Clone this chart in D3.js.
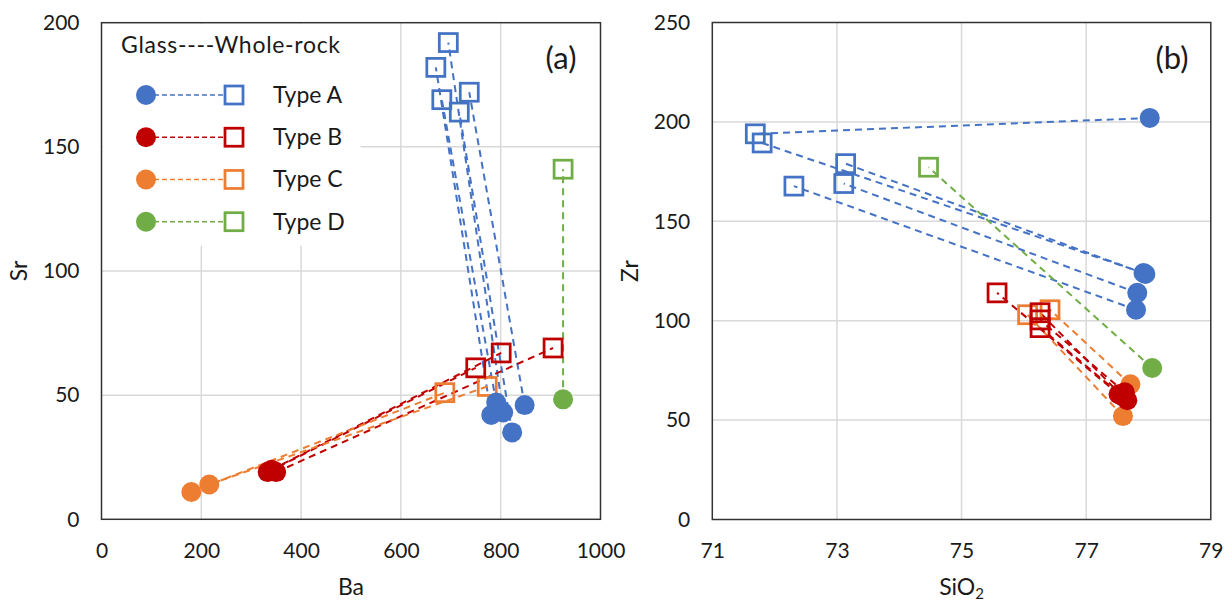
<!DOCTYPE html>
<html><head><meta charset="utf-8">
<script src="https://cdn.jsdelivr.net/npm/d3@7"></script>
<style>
html,body{margin:0;padding:0;background:#fff;}
svg{display:block;font-family:Lato, "Open Sans", sans-serif;}
</style></head>
<body><svg id="c" width="1226" height="604"></svg>
<script>
// ---------- DATA ----------
const typeNames = ["Type A", "Type B", "Type C", "Type D"];
const legendTitle = "Glass----Whole-rock";

// Panel (a): Ba vs Sr. glass[i] is joined to wholeRock[i]
const aTypeA_glass = [[781, 42], [791, 47], [805, 43], [823, 35], [848, 46]];
const aTypeA_wr    = [[670, 182], [682, 169], [695, 192], [717, 164], [737, 172]];
const aTypeB_glass = [[333, 19], [341, 20], [350, 19]];
const aTypeB_wr    = [[750, 61], [801, 67], [905, 69]];
const aTypeC_glass = [[180, 11], [216, 14]];
const aTypeC_wr    = [[688, 51], [773, 53.5]];
const aTypeD_glass = [[925, 48.3]];
const aTypeD_wr    = [[925, 141]];

// Panel (b): SiO2 vs Zr
const bTypeA_glass = [[78.02, 202], [77.92, 124], [77.95, 123.5], [77.82, 114], [77.80, 105.5]];
const bTypeA_wr    = [[71.69, 194], [71.80, 189.4], [73.14, 179], [73.11, 169], [72.31, 167.7]];
const bTypeB_glass = [[77.52, 63], [77.58, 62], [77.62, 64], [77.66, 60]];
const bTypeB_wr    = [[75.57, 114], [76.26, 104], [76.26, 100.4], [76.26, 96.5]];
const bTypeC_glass = [[77.59, 52], [77.71, 68]];
const bTypeC_wr    = [[76.06, 103], [76.42, 105.5]];
const bTypeD_glass = [[78.06, 76.2]];
const bTypeD_wr    = [[74.47, 177.2]];

const aXTicks = [0, 200, 400, 600, 800, 1000];
const aYTicks = [0, 50, 100, 150, 200];
const bXTicks = [71, 73, 75, 77, 79];
const bYTicks = [0, 50, 100, 150, 200, 250];

// ---------- STYLE ----------
const colors = ["#4472C4", "#C00000", "#ED7D31", "#70AD47"];
const textColor = "#1a1a1a";
const gridColor = "#D9D9D9";
const frameColor = "#333";
const fs = 21;     // tick labels
const fsT = 23;    // titles / legend

const svg = d3.select("#c");

function panel(opts) {
  const {x, y, xTicks, yTicks, xLabel, yLabel, yLabelX, tag, tagX, series, legendBox} = opts;
  const g = svg.append("g");
  const [x0, x1] = x.range();
  const [y0, y1] = y.range();
  // gridlines
  g.selectAll(".gx").data(xTicks.slice(1, -1)).join("line")
    .attr("x1", d => x(d)).attr("x2", d => x(d)).attr("y1", y0).attr("y2", y1)
    .attr("stroke", gridColor).attr("stroke-width", 1.5);
  g.selectAll(".gy").data(yTicks.slice(1, -1)).join("line")
    .attr("y1", d => y(d)).attr("y2", d => y(d)).attr("x1", x0).attr("x2", x1)
    .attr("stroke", gridColor).attr("stroke-width", 1.5);
  if (legendBox) {
    g.append("rect").attr("x", x0 + 1).attr("y", y1 + 1)
      .attr("width", legendBox[0]).attr("height", legendBox[1]).attr("fill", "#fff");
  }
  // frame
  g.append("rect").attr("x", x0).attr("y", y1).attr("width", x1 - x0).attr("height", y0 - y1)
    .attr("fill", "none").attr("stroke", frameColor).attr("stroke-width", 1.5);
  // axes
  const ax = g.append("g").attr("transform", `translate(0,${y0})`)
    .call(d3.axisBottom(x).tickValues(xTicks).tickSize(0).tickPadding(24).tickFormat(d3.format("d")));
  const ay = g.append("g").attr("transform", `translate(${x0},0)`)
    .call(d3.axisLeft(y).tickValues(yTicks).tickSize(0).tickPadding(22).tickFormat(d3.format("d")));
  [ax, ay].forEach(a => {
    a.select(".domain").remove();
    a.selectAll("text").attr("font-size", fs).attr("fill", textColor).attr("font-family", "Lato");
  });
  // axis titles
  const xt = g.append("text").attr("x", (x0 + x1) / 2).attr("y", 595)
    .attr("text-anchor", "middle").attr("font-size", fsT).attr("fill", textColor);
  if (Array.isArray(xLabel)) {
    xt.append("tspan").text(xLabel[0]);
    xt.append("tspan").attr("dy", 4).attr("font-size", 15).text(xLabel[1]);
  } else xt.text(xLabel);
  g.append("text").attr("transform", `translate(${yLabelX},${(y0 + y1) / 2}) rotate(-90)`)
    .attr("text-anchor", "middle").attr("font-size", fsT).attr("fill", textColor).text(yLabel);
  g.append("text").attr("x", tagX).attr("y", 69).attr("text-anchor", "middle")
    .attr("font-size", 31).attr("fill", textColor).text(tag);

  // tie lines
  const order = [0, 3, 2, 1];
  series.forEach((s, k) => {
    g.selectAll(null).data(d3.range(s.glass.length)).join("line")
      .attr("x1", i => x(s.glass[i][0])).attr("y1", i => y(s.glass[i][1]))
      .attr("x2", i => x(s.wr[i][0])).attr("y2", i => y(s.wr[i][1]))
      .attr("stroke", colors[k]).attr("stroke-width", 2).attr("stroke-dasharray", "7,5");
  });
  // markers
  order.forEach(k => {
    const s = series[k];
    g.selectAll(null).data(s.wr).join("rect")
      .attr("x", d => x(d[0]) - 9).attr("y", d => y(d[1]) - 9)
      .attr("width", 18).attr("height", 18)
      .attr("fill", "none").attr("stroke", colors[k]).attr("stroke-width", 2.75);
  });
  order.forEach(k => {
    const s = series[k];
    g.selectAll(null).data(s.glass).join("circle")
      .attr("cx", d => x(d[0])).attr("cy", d => y(d[1])).attr("r", 10)
      .attr("fill", colors[k]);
  });
  return g;
}

const xA = d3.scaleLinear().domain([0, 1000]).range([101.5, 600.5]);
const yA = d3.scaleLinear().domain([0, 200]).range([519.3, 22.7]);
const xB = d3.scaleLinear().domain([71, 79]).range([712.3, 1210.8]);
const yB = d3.scaleLinear().domain([0, 250]).range([519.5, 22.5]);

panel({
  x: xA, y: yA, xTicks: aXTicks, yTicks: aYTicks, xLabel: "Ba", yLabel: "Sr", yLabelX: 27,
  tag: "(a)", tagX: 561, legendBox: [258, 222],
  series: [
    {glass: aTypeA_glass, wr: aTypeA_wr},
    {glass: aTypeB_glass, wr: aTypeB_wr},
    {glass: aTypeC_glass, wr: aTypeC_wr},
    {glass: aTypeD_glass, wr: aTypeD_wr}
  ]
});
panel({
  x: xB, y: yB, xTicks: bXTicks, yTicks: bYTicks, xLabel: ["SiO", "2"], yLabel: "Zr", yLabelX: 638,
  tag: "(b)", tagX: 1172,
  series: [
    {glass: bTypeA_glass, wr: bTypeA_wr},
    {glass: bTypeB_glass, wr: bTypeB_wr},
    {glass: bTypeC_glass, wr: bTypeC_wr},
    {glass: bTypeD_glass, wr: bTypeD_wr}
  ]
});

// legend
const lg = svg.append("g");
lg.append("text").attr("x", 121).attr("y", 53).attr("font-size", fsT).attr("fill", textColor)
  .attr("textLength", 219).attr("lengthAdjust", "spacing").text(legendTitle);
const rowY = d3.scaleLinear().domain([0, 3]).range([95, 221.7]);
typeNames.forEach((name, k) => {
  const cy = rowY(k);
  lg.append("line").attr("x1", 146).attr("x2", 225).attr("y1", cy).attr("y2", cy)
    .attr("stroke", colors[k]).attr("stroke-width", 1.5).attr("stroke-dasharray", "5,3");
  lg.append("rect").attr("x", 225).attr("y", cy - 9).attr("width", 18).attr("height", 18)
    .attr("fill", "#fff").attr("stroke", colors[k]).attr("stroke-width", 2.75);
  lg.append("circle").attr("cx", 146).attr("cy", cy).attr("r", 10).attr("fill", colors[k]);
  lg.append("text").attr("x", 273).attr("y", cy + 8).attr("font-size", fsT).attr("fill", textColor).text(name);
});
</script></body></html>
